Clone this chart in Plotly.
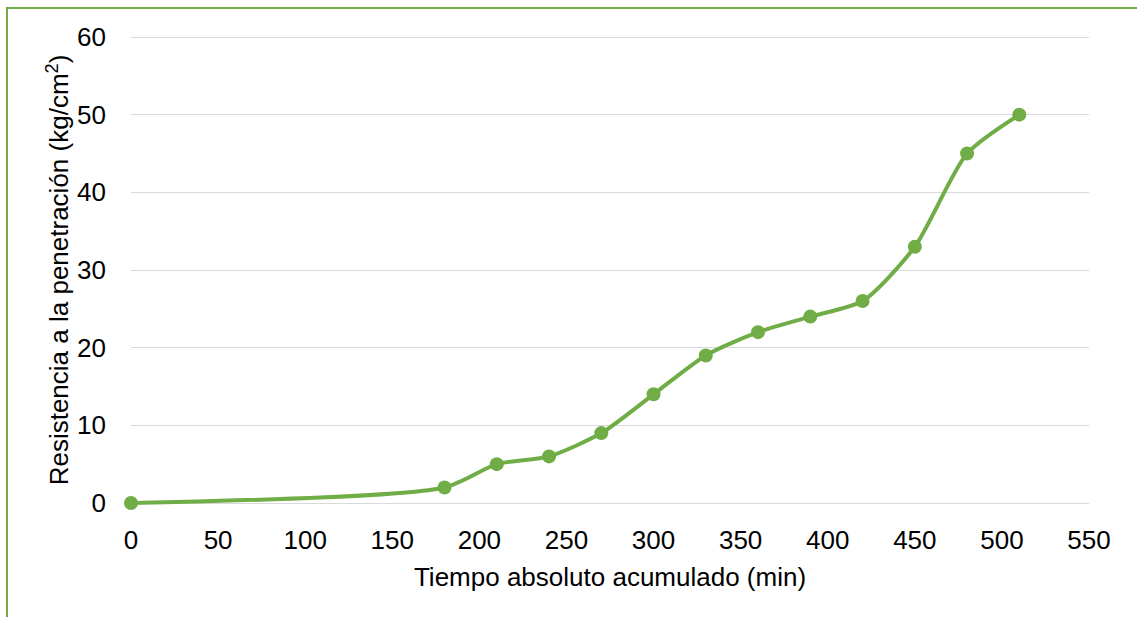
import plotly.graph_objects as go

tiempo = [0, 180, 210, 240, 270, 300, 330, 360, 390, 420, 450, 480, 510]
resistencia = [0, 2, 5, 6, 9, 14, 19, 22, 24, 26, 33, 45, 50]
x_ticks = list(range(0, 551, 50))
y_ticks = list(range(0, 61, 10))

green = "#70AD47"
font = "Liberation Sans, Arial, sans-serif"

fig = go.Figure()
fig.add_trace(go.Scatter(
    x=tiempo, y=resistencia, mode="lines+markers",
    line=dict(color=green, width=4, shape="spline", smoothing=0.7),
    marker=dict(color=green, size=14),
    cliponaxis=False,
    showlegend=False,
))

W, H = 1137, 617
L, R, T, B = 131, 48, 35, 112
pw, ph = W - L - R, H - T - B
ypad = 2 * 60 / (ph - 4)  # 2px padding so edge gridlines are drawn

fig.update_layout(
    width=W, height=H,
    margin=dict(l=L, r=R, t=T, b=B),
    plot_bgcolor="white", paper_bgcolor="white",
    font=dict(family=font, size=26, color="black"),
    xaxis=dict(
        range=[0, 550], tickvals=x_ticks,
        showgrid=False, zeroline=False, showline=False,
        ticks="", ticklabelstandoff=17,
        title=dict(text="Tiempo absoluto acumulado (min)", font=dict(size=26), standoff=13),
        tickfont=dict(size=26),
    ),
    yaxis=dict(
        range=[-ypad, 60 + ypad], tickvals=y_ticks,
        showgrid=True, gridcolor="#d9d9d9", gridwidth=1.3,
        zeroline=False, showline=False, ticks="", ticklabelstandoff=24,
        title=dict(text="Resistencia a la penetración (kg/cm<sup>2</sup>)", font=dict(size=26), standoff=0),
        tickfont=dict(size=26),
    ),
)

# outer frame
fig.add_shape(
    type="rect", xref="paper", yref="paper",
    x0=(7 - L) / pw, x1=(W + 10 - L) / pw,
    y0=(H - B - (H + 10)) / ph, y1=(H - B - 8) / ph,
    line=dict(color=green, width=2), fillcolor="rgba(0,0,0,0)", layer="below",
)

fig.write_html(
    "out.html",
    config={"displayModeBar": False},
    post_script="document.body.style.margin='0';document.body.style.overflow='hidden';",
)
